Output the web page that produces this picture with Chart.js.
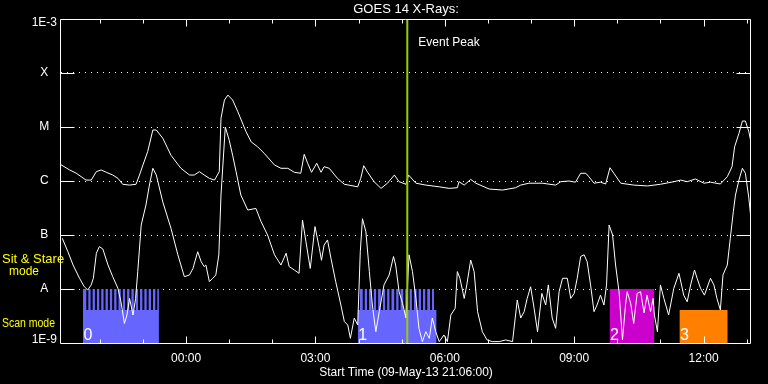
<!DOCTYPE html>
<html><head><meta charset="utf-8">
<script src="https://cdn.jsdelivr.net/npm/chart.js@4"></script>
<style>html,body{margin:0;padding:0;background:#000;}canvas{display:block;background:#000;}</style>
</head><body>
<canvas id="c" width="768" height="384" style="width:768px;height:384px"></canvas>
<script>
// ---------------- DATA ----------------
const chartTitle = 'GOES 14 X-Rays:';
const xAxisTitle = 'Start Time (09-May-13 21:06:00)';
// hours relative to 10-May-13 00:00
const xMin = -2.9, xMax = 13.1;
const xTickValues = [0, 3, 6, 9, 12];
const xTickLabels = ['00:00', '03:00', '06:00', '09:00', '12:00'];
const yTickValues = [1e-9, 1e-8, 1e-7, 1e-6, 1e-5, 1e-4, 1e-3];
const yTickLabels = ['1E-9', 'A', 'B', 'C', 'M', 'X', '1E-3'];

const eventPeak = 5.13;
const eventLabel = 'Event Peak';

// GOES long channel (1-8 A), W/m^2
const longTime = [-2.90,-2.70,-2.55,-2.32,-2.20,-2.08,-1.97,-1.85,-1.70,-1.58,
  -1.47,-1.31,-1.16,-1.08,-1.00,-0.89,-0.77,-0.69,-0.54,-0.35,
  -0.12,0.08,0.19,0.31,0.42,0.54,0.66,0.77,0.81,0.89,
  0.97,1.08,1.20,1.39,1.51,1.66,1.81,2.05,2.20,2.36,
  2.51,2.66,2.74,2.82,2.91,3.03,3.13,3.20,3.32,3.51,
  3.67,3.98,4.05,4.12,4.21,4.36,4.52,4.67,4.83,4.94,
  5.10,5.16,5.33,5.56,5.87,6.10,6.29,6.33,6.45,6.60,
  6.72,7.03,7.34,7.64,7.76,7.95,8.26,8.57,8.69,8.88,
  9.03,9.15,9.27,9.34,9.46,9.61,9.73,9.83,9.92,10.08,
  10.38,10.70,11.00,11.31,11.47,11.62,11.81,12.01,12.16,12.39,
  12.55,12.66,12.72,12.82,12.90,12.97,13.05,13.09];
const longFlux = [2.0e-6,1.6e-6,1.4e-6,1.04e-6,1.04e-6,1.49e-6,1.6e-6,1.45e-6,1.29e-6,1.12e-6,
  8.7e-7,8.4e-7,8.7e-7,1.29e-6,1.98e-6,3.5e-6,8.8e-6,8.8e-6,6.2e-6,3.0e-6,
  1.72e-6,1.29e-6,1.29e-6,1.49e-6,1.29e-6,1.12e-6,1.04e-6,1.49e-6,1.45e-5,3.16e-5,
  3.9e-5,3.16e-5,1.92e-5,8.2e-6,5.3e-6,4.3e-6,3.26e-6,1.98e-6,1.72e-6,1.72e-6,
  1.45e-6,1.39e-6,3.12e-6,2.13e-6,1.45e-6,2.13e-6,1.45e-6,1.84e-6,1.72e-6,1.12e-6,
  8.7e-7,7.8e-7,1.12e-6,1.92e-6,1.45e-6,9.7e-7,7.3e-7,9.1e-7,1.29e-6,9.7e-7,
  8.7e-7,1.29e-6,9.1e-7,8.4e-7,7.8e-7,7.3e-7,7.5e-7,9.7e-7,8.4e-7,1.07e-6,
  9.1e-7,7.1e-7,6.8e-7,7.5e-7,8.4e-7,9.1e-7,9.1e-7,8.4e-7,9.7e-7,1.0e-6,
  9.5e-7,1.39e-6,1.39e-6,1.2e-6,9.1e-7,9.5e-7,8.8e-7,1.76e-6,1.39e-6,9.1e-7,
  8.4e-7,8.1e-7,8.7e-7,9.7e-7,1.04e-6,9.7e-7,1.09e-6,9.1e-7,9.5e-7,8.8e-7,
  1.2e-6,1.84e-6,4.3e-6,7.6e-6,1.29e-5,1.29e-5,8.2e-6,5.7e-6];

// GOES short channel (0.5-4 A), W/m^2
const shortTime = [-2.87,-2.74,-2.62,-2.47,-2.36,-2.28,-2.20,-2.15,-2.08,-2.01,
  -1.93,-1.81,-1.70,-1.58,-1.51,-1.43,-1.37,-1.31,-1.23,-1.17,
  -1.12,-1.04,-0.93,-0.85,-0.77,-0.69,-0.54,-0.35,-0.19,-0.04,
  0.08,0.16,0.27,0.35,0.42,0.46,0.54,0.62,0.69,0.76,
  0.81,0.91,1.00,1.08,1.16,1.27,1.43,1.62,1.74,1.89,
  2.05,2.20,2.32,2.39,2.51,2.62,2.70,2.78,2.88,2.99,
  3.09,3.14,3.20,3.28,3.36,3.47,3.59,3.67,3.75,3.81,
  3.90,3.98,4.04,4.09,4.17,4.25,4.32,4.40,4.48,4.59,
  4.71,4.81,4.86,4.94,5.02,5.10,5.17,5.25,5.33,5.40,
  5.48,5.56,5.64,5.71,5.79,5.87,5.98,6.06,6.14,6.24,
  6.29,6.35,6.45,6.51,6.60,6.68,6.76,6.87,6.98,7.10,
  7.26,7.41,7.57,7.68,7.76,7.84,7.91,7.99,8.07,8.15,
  8.25,8.34,8.40,8.49,8.57,8.65,8.73,8.84,8.92,9.00,
  9.07,9.15,9.23,9.30,9.38,9.46,9.53,9.61,9.69,9.75,
  9.81,9.89,9.96,10.04,10.12,10.19,10.23,10.31,10.38,10.46,
  10.54,10.62,10.69,10.77,10.83,10.86,10.93,11.00,11.08,11.19,
  11.31,11.43,11.54,11.62,11.70,11.79,11.85,11.93,12.02,12.16,
  12.24,12.31,12.39,12.45,12.55,12.62,12.69,12.74,12.82,12.90,
  12.97,13.05,13.09];
const shortFlux = [8.7e-8,4.9e-8,2.78e-8,1.58e-8,1.1e-8,9.6e-9,1.19e-8,1.58e-8,4.6e-8,6.1e-8,
  5.5e-8,2.78e-8,1.69e-8,1.03e-8,5.8e-9,2.3e-9,3.3e-9,6.7e-9,3.3e-9,6.7e-9,
  2.1e-8,1.53e-7,3.6e-7,8.4e-7,1.72e-6,1.29e-6,4.1e-7,1.33e-7,4.3e-8,1.69e-8,
  1.82e-8,2.4e-8,4.9e-8,3.2e-8,2.6e-8,2.78e-8,1.37e-8,1.58e-8,1.82e-8,4.3e-8,
  5.5e-7,1.0e-5,5.7e-6,3.0e-6,1.49e-6,5.5e-7,2.9e-7,3.1e-7,1.76e-7,1.0e-7,
  4.3e-8,2.78e-8,4.6e-8,2.6e-8,2.25e-8,1.95e-8,1.9e-7,7.5e-8,2.4e-8,1.43e-7,
  5.7e-8,3.4e-8,6.5e-8,8.1e-8,3.7e-8,1.37e-8,5.05e-9,2.5e-9,2.15e-9,1.22e-9,
  2.9e-9,2.15e-9,4.9e-8,2.0e-7,1.15e-7,2.1e-8,5.05e-9,1.62e-9,3.8e-9,1.19e-8,
  1.82e-8,4.0e-8,2.78e-8,8.9e-9,5.4e-9,2.9e-9,4.3e-8,2.1e-8,6.7e-9,1.87e-9,
  1.06e-9,1.62e-9,1.22e-9,2.9e-9,1.62e-9,1.06e-9,1.41e-9,1.06e-9,3.3e-9,4.4e-9,
  2.1e-8,1.58e-8,6.7e-9,1.19e-8,3.44e-8,2.1e-8,3.8e-9,1.62e-9,1.14e-9,1.06e-9,
  1.06e-9,1.14e-9,1.06e-9,6.25e-9,2.9e-9,3.8e-9,6.7e-9,1.1e-8,4.4e-9,1.62e-9,
  8.3e-9,5.05e-9,1.19e-8,2.9e-9,1.87e-9,8.9e-9,1.58e-8,1.58e-8,6.7e-9,8.3e-9,
  1.58e-8,4.0e-8,4.3e-8,3.2e-8,1.19e-8,3.8e-9,5.05e-9,7.7e-9,5.05e-9,1.19e-8,
  1.53e-7,1.0e-7,2.78e-8,8.9e-9,1.14e-9,5.05e-9,8.9e-9,5.4e-9,2.3e-9,8.3e-9,
  8.9e-9,3.6e-9,7.7e-9,3.8e-9,6.7e-9,3.3e-9,1.62e-9,1.19e-8,6.7e-9,3.3e-9,
  1.03e-8,1.95e-8,7.7e-9,5.8e-9,1.19e-8,2.25e-8,1.58e-8,1.03e-8,7.7e-9,1.58e-8,
  1.19e-8,6.7e-9,4.1e-9,1.82e-8,2.78e-8,8.7e-8,2.7e-7,5.5e-7,1.04e-6,1.72e-6,
  1.39e-6,4.8e-7,2.35e-7];

// observing windows (hours)
const blockNames = ['0', '1', '2', '3'];
const scanStart  = [-2.39, 3.98, 9.82, 11.44];
const scanEnd    = [-0.63, 5.81, 10.86, 12.56];
const stareStart = [-2.39, 4.03, 9.82, null];
const stareEnd   = [-0.63, 5.75, 10.86, null];
const bandBottom = 1e-9, bandMid = 4.1e-9, bandTop = 1e-8;
// sit & stare pointing changes (hours)
const stareMarks0 = [-2.29,-2.19,-2.09,-1.99,-1.89,-1.79,-1.69,-1.59,-1.49,-1.39,-1.29,-1.19,-1.09,-0.99,-0.89,-0.79,-0.69];
const stareMarks1 = [4.12,4.22,4.33,4.43,4.54,4.64,4.74,4.85,4.95,5.06,5.16,5.26,5.37,5.47,5.57,5.68];

// ---------------- STYLE ----------------
const FONT = '"Liberation Sans", Arial, sans-serif';
const blockColors = ['#6666ff', '#6666ff', '#cc00cc', '#ff8000'];

if (longTime.length !== longFlux.length || shortTime.length !== shortFlux.length) {
  console.error('length mismatch', longTime.length, longFlux.length, shortTime.length, shortFlux.length);
}

const toPts = (xs, ys) => xs.map((t, i) => ({x: t, y: ys[i]}));
const rect = (x0, x1, top, bottom, color) => ({
  data: [{x: x0, y: top}, {x: x1, y: top}],
  borderColor: 'rgba(0,0,0,0)', borderWidth: 1, pointRadius: 0,
  backgroundColor: color, fill: {value: bottom}, tension: 0
});

const datasets = [];
for (let i = 0; i < blockNames.length; i++) {
  datasets.push(rect(scanStart[i], scanEnd[i], bandMid, bandBottom, blockColors[i]));
  if (stareStart[i] !== null) datasets.push(rect(stareStart[i], stareEnd[i], bandTop, bandMid, blockColors[i]));
}
const stripePts = [];
[...stareMarks0, ...stareMarks1].forEach(t => {
  stripePts.push({x: t, y: bandTop}, {x: t, y: bandMid}, {x: t, y: null});
});
datasets.push({data: stripePts, borderColor: '#000', borderWidth: 2, pointRadius: 0, spanGaps: false, fill: false});
datasets.push({data: toPts(shortTime, shortFlux), borderColor: '#fff', borderWidth: 1, pointRadius: 0, fill: false, tension: 0});
datasets.push({data: toPts(longTime, longFlux), borderColor: '#fff', borderWidth: 1, pointRadius: 0, fill: false, tension: 0});
datasets.push({data: [{x: eventPeak, y: 1e-9}, {x: eventPeak, y: 1e-3}], borderColor: '#99cc00', borderWidth: 2, pointRadius: 0, fill: false});
datasets.forEach((d, i) => { d.order = datasets.length - i; });

const decor = {
  id: 'decor',
  afterDatasetsDraw(chart) {
    const {ctx, chartArea: a, scales: {x, y}} = chart;
    ctx.save();
    ctx.strokeStyle = '#fff';
    ctx.lineWidth = 1;
    ctx.beginPath();
    const L = a.left - 0.5, R = a.right - 0.5, T = a.top + 0.5, B = a.bottom + 0.5;
    ctx.moveTo(L, T); ctx.lineTo(R, T); ctx.lineTo(R, B); ctx.lineTo(L, B); ctx.closePath();
    // inner y ticks
    for (let i = 1; i < yTickValues.length - 1; i++) {
      const py = Math.round(y.getPixelForValue(yTickValues[i])) + 0.5;
      ctx.moveTo(L, py); ctx.lineTo(L + 14, py);
      ctx.moveTo(R - 14, py); ctx.lineTo(R, py);
    }
    // inner x ticks (hourly, major every 3 h)
    for (let h = Math.ceil(xMin); h <= Math.floor(xMax); h++) {
      const px = Math.round(x.getPixelForValue(h)) + 0.5;
      const len = (h % 3 === 0) ? 7 : 4;
      ctx.moveTo(px, T); ctx.lineTo(px, T + len);
      ctx.moveTo(px, B); ctx.lineTo(px, B - len);
    }
    ctx.stroke();

    // texts
    ctx.fillStyle = '#fff';
    ctx.textAlign = 'left';
    ctx.textBaseline = 'middle';
    ctx.font = '12px ' + FONT;
    ctx.fillText(eventLabel, x.getPixelForValue(eventPeak) + 11, 43);

    ctx.font = '16px ' + FONT;
    ctx.textBaseline = 'alphabetic';
    for (let i = 0; i < blockNames.length; i++) {
      ctx.fillText(blockNames[i], x.getPixelForValue(scanStart[i]) + 0.5, 339.5);
    }

    ctx.fillStyle = '#ffff00';
    ctx.textBaseline = 'middle';
    ctx.font = '13px ' + FONT;
    ctx.fillText('Sit & Stare', 2, 259);
    ctx.textAlign = 'center';
    ctx.font = '12px ' + FONT;
    ctx.fillText('mode', 24, 272);
    ctx.textAlign = 'left';
    ctx.fillText('Scan mode', 2, 324, 53);
    ctx.restore();
  }
};

const edgeNudge = v => v === 1e-3 ? v * Math.pow(10, -4 / 54) : (v === 1e-9 ? v * Math.pow(10, 3.5 / 54) : v);

new Chart(document.getElementById('c'), {
  type: 'line',
  data: {datasets},
  options: {
    responsive: false,
    animation: false,
    devicePixelRatio: 1,
    events: [],
    layout: {padding: {left: 0, right: 17, top: 0, bottom: 0}},
    plugins: {
      legend: {display: false},
      tooltip: {enabled: false},
      title: {
        display: true, text: chartTitle, color: '#fff', fullSize: false,
        font: {family: FONT, size: 13, weight: 'normal'},
        padding: {top: 2, bottom: 1.4}
      }
    },
    scales: {
      x: {
        type: 'linear', min: xMin, max: xMax,
        grid: {display: false, drawTicks: false},
        border: {display: false},
        afterBuildTicks: s => { s.ticks = xTickValues.map(v => ({value: v})); },
        afterFit: s => { s.height = 41; },
        ticks: {
          color: '#fff', font: {family: FONT, size: 12}, padding: 8,
          autoSkip: false, maxRotation: 0, minRotation: 0,
          callback: (v, i) => xTickLabels[i]
        },
        title: {
          display: true, text: xAxisTitle, color: '#fff',
          font: {family: FONT, size: 12}, padding: {top: 0, bottom: 4}
        }
      },
      y: {
        type: 'logarithmic', min: 1e-9, max: 1e-3,
        grid: {
          drawTicks: false, lineWidth: 1,
          color: c => (c.index === 0 || c.index === yTickValues.length - 1) ? 'rgba(0,0,0,0)' : '#fff'
        },
        border: {display: false, dash: [1, 5]},
        afterBuildTicks: s => { s.ticks = yTickValues.map(v => ({value: edgeNudge(v)})); },
        afterFit: s => { s.width = 61; },
        ticks: {
          color: '#fff', font: {family: FONT, size: 12}, padding: 4,
          crossAlign: 'center', autoSkip: false,
          callback: (v, i) => yTickLabels[i]
        }
      }
    }
  },
  plugins: [decor]
});
</script>
</body></html>
